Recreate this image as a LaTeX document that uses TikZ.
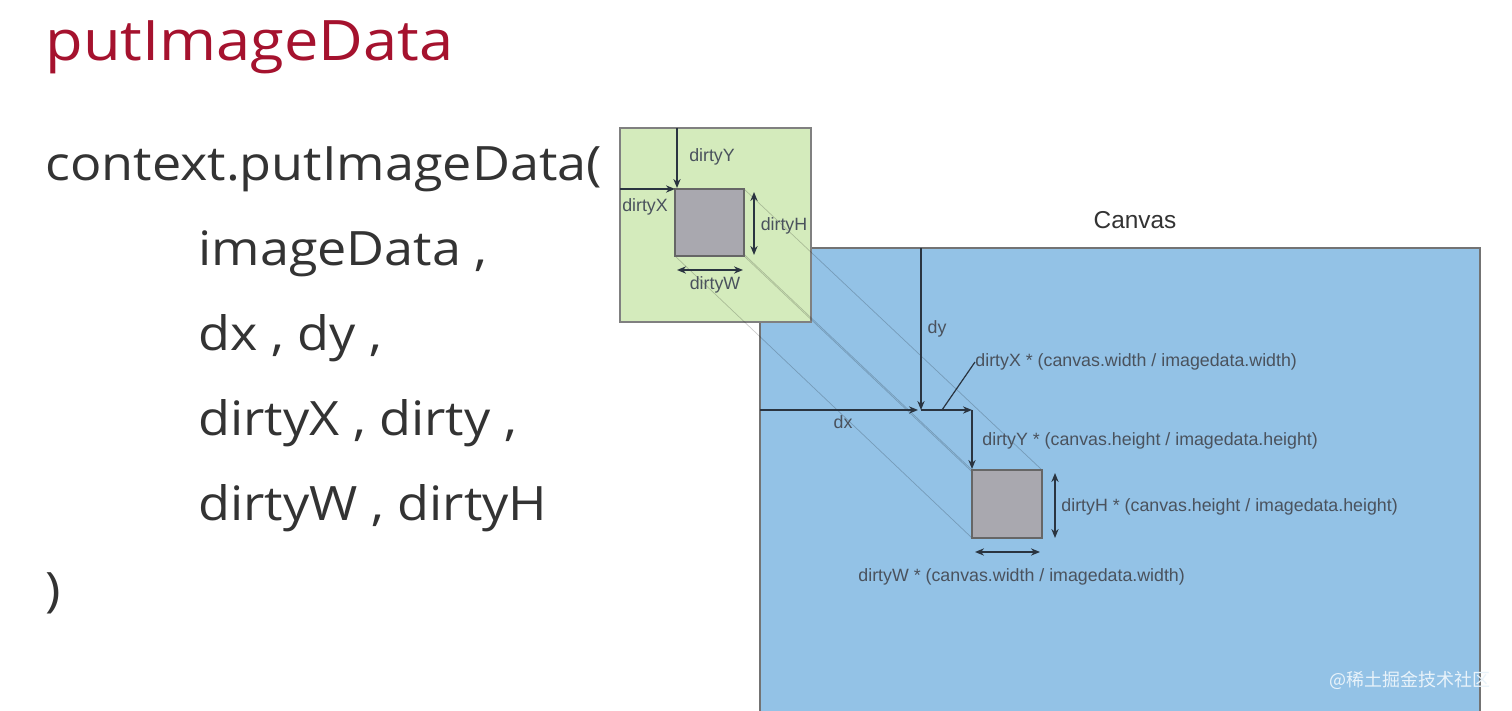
\documentclass[tikz,border=0pt]{standalone}
\usepackage{fontspec}
\setmainfont{Open Sans}[FakeStretch=1.1]
\newfontfamily\arialf{Liberation Sans}
\newfontfamily\cjkf{Noto Sans CJK SC}
\usetikzlibrary{arrows.meta}
\definecolor{titlered}{HTML}{A5122E}
\definecolor{codegray}{HTML}{333333}
\definecolor{greenfill}{HTML}{D4EBBC}
\definecolor{bluefill}{HTML}{93C2E6}
\definecolor{sqfill}{HTML}{A9A8AF}
\definecolor{arrowcol}{HTML}{2A3440}
\tikzset{
  codetext/.style={anchor=base west, inner sep=0pt, text=codegray, font=\fontsize{23.7}{28}\selectfont},
  lbl/.style={inner sep=0pt, text=arrowcol!85!white, font=\arialf\fontsize{8.9}{10}\selectfont},
  dimarrow/.style={draw=arrowcol, line width=0.7pt, -{Stealth[length=4.5pt,width=3.6pt]}},
  dimboth/.style={draw=arrowcol, line width=0.7pt, {Stealth[length=4.5pt,width=3.6pt]}-{Stealth[length=4.5pt,width=3.6pt]}},
  projline/.style={draw=black, opacity=0.2, line width=0.35pt},
  sqbox/.style={fill=sqfill, draw=black!60, line width=0.6pt},
}
\begin{document}
\begin{tikzpicture}[x=0.5pt,y=-0.5pt]
\useasboundingbox (0,0) rectangle (1512,711);
\fill[white] (0,0) rectangle (1512,711);

% left text
\node[anchor=base west, inner sep=0pt, text=titlered, font=\fontsize{27.9}{32}\selectfont] (title) at (45,61) {putImageData};
\node[codetext] (l1) at (45,181) {context.putImageData(};
\node[codetext] (l2) at (198,266) {imageData ,};
\node[codetext] (l3) at (198,351) {dx , dy ,};
\node[codetext] (l4) at (198,436) {dirtyX , dirty ,};
\node[codetext] (l5) at (198,521) {dirtyW , dirtyH};
\node[codetext] (l6) at (45,606) {)};

% canvas
\coordinate (cTL) at (760,248);
\coordinate (cBR) at (1480,722);
\fill[bluefill] (cTL) rectangle (cBR);
\draw[black!55, line width=1pt] (cTL) rectangle (cBR);
\node[lbl, font=\arialf\fontsize{12.2}{14}\selectfont, text=black!80] (canvaslbl) at (1135,220) {Canvas};

% green image data box
\coordinate (gTL) at (620,128);
\coordinate (gBR) at (811,322);
\fill[greenfill] (gTL) rectangle (gBR);
\draw[black!50, line width=1pt] (gTL) rectangle (gBR);

% squares corners
\coordinate (s1TL) at (675,189);
\coordinate (s1TR) at (744,189);
\coordinate (s1BL) at (675,256);
\coordinate (s1BR) at (744,256);
\coordinate (s2TL) at (972,470);
\coordinate (s2TR) at (1042,470);
\coordinate (s2BL) at (972,538);
\coordinate (s2BR) at (1042,538);

% projection lines
\draw[projline] (s1TL) -- (s2TL);
\draw[projline] (s1TR) -- (s2TR);
\draw[projline] (s1BL) -- (s2BL);
\draw[projline] (s1BR) -- (s2BR);

\draw[sqbox] (s1TL) rectangle (s1BR);
\draw[sqbox] (s2TL) rectangle (s2BR);

% green box dimensions
\coordinate (gyTop) at (677,128);
\coordinate (gyEnd) at (677,188);
\coordinate (gxLeft) at (620,189);
\coordinate (gxEnd) at (675,189);
\draw[dimarrow] (gyTop) -- (gyEnd);
\draw[dimarrow] (gxLeft) -- (gxEnd);
\node[lbl] (gdy) at (712,157) {dirtyY};
\node[lbl] (gdx) at (645,207) {dirtyX};
\coordinate (ghT) at (754,192);
\coordinate (ghB) at (754,255);
\draw[dimboth] (ghT) -- (ghB);
\node[lbl] (gdh) at (784,226) {dirtyH};
\coordinate (gwL) at (677,270);
\coordinate (gwR) at (743,270);
\draw[dimboth] (gwL) -- (gwR);
\node[lbl] (gdw) at (715,285) {dirtyW};

% canvas dimensions
\coordinate (dyTop) at (921,248);
\coordinate (dpt) at (921,410);
\coordinate (dxLeft) at (760,410);
\coordinate (dxEnd) at (918,410);
\coordinate (dirXEnd) at (972,410);
\coordinate (dirYEnd) at (972,469);
\draw[dimarrow] (dyTop) -- (dpt);
\draw[dimarrow] (dxLeft) -- (dxEnd);
\draw[dimarrow] (dpt) -- (dirXEnd);
\draw[dimarrow] (dirXEnd) -- (dirYEnd);
\node[lbl] (cdy) at (937,329) {dy};
\node[lbl] (cdx) at (843,422) {dx};
\node[lbl, anchor=west] (cdirx) at (975,362) {dirtyX * (canvas.width / imagedata.width)};
\coordinate (leadA) at (942,410);
\draw[draw=arrowcol, line width=0.6pt] (leadA) -- (cdirx.west);
\node[lbl, anchor=west] (cdiry) at (982,441) {dirtyY * (canvas.height / imagedata.height)};
\coordinate (chT) at (1055,473);
\coordinate (chB) at (1055,538);
\draw[dimboth] (chT) -- (chB);
\node[lbl, anchor=west] (cdirh) at (1061,507) {dirtyH * (canvas.height / imagedata.height)};
\coordinate (cwL) at (975,552);
\coordinate (cwR) at (1040,552);
\draw[dimboth] (cwL) -- (cwR);
\node[lbl, anchor=west] (cdirw) at (858,577) {dirtyW * (canvas.width / imagedata.width)};

% watermark
\node[inner sep=0pt, text=white!80!bluefill, font=\cjkf\fontsize{9}{11}\selectfont] (wm) at (1410,680) {@稀土掘金技术社区};
\end{tikzpicture}
\end{document}
